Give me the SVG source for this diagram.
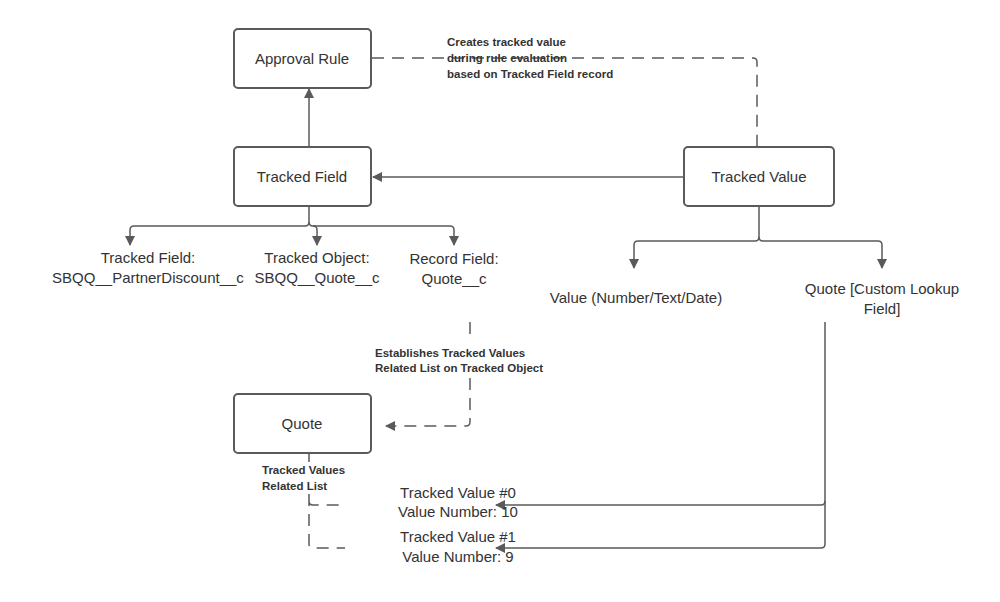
<svg xmlns="http://www.w3.org/2000/svg" width="1000" height="602" viewBox="0 0 1000 602">
<style>
.box{fill:#fff;stroke:#5a5a5a;stroke-width:2}
.t{font-family:"Liberation Sans",Arial,sans-serif;font-size:15px;fill:#333;text-anchor:middle}
.b{font-family:"Liberation Sans",Arial,sans-serif;font-size:11.5px;font-weight:bold;fill:#333}
.c{fill:none;stroke:#5a5a5a;stroke-width:1.5}
.d{stroke-dasharray:12,8}
</style>
<defs><marker id="a" markerWidth="10" markerHeight="10" refX="9" refY="5" orient="auto" markerUnits="userSpaceOnUse"><path d="M0,0L10,5L0,10z" fill="#5a5a5a"/></marker></defs>
<rect width="1000" height="602" fill="#fff"/>
<g id="connectors">
<path class="c" d="M309,147V89" marker-end="url(#a)"/>
<path class="c" d="M684,177H373" marker-end="url(#a)"/>
<path class="c d" d="M372,58H753q4,0 4,4V147"/>
<path class="c" d="M309,206V222q0,4 -4,4H134q-4,0 -4,4V245" marker-end="url(#a)"/>
<path class="c" d="M309,222q0,4 4,4H450q4,0 4,4V245" marker-end="url(#a)"/>
<path class="c" d="M313,226q4,0 4,4V245" marker-end="url(#a)"/>
<path class="c" d="M759,206V237q0,4 -4,4H638q-4,0 -4,4V268" marker-end="url(#a)"/>
<path class="c" d="M759,237q0,4 4,4H878q4,0 4,4V268" marker-end="url(#a)"/>
<path class="c d" d="M470,322V340M470,378V422q0,4 -4,4H386" marker-end="url(#a)"/>
<path class="c d" d="M309,453V462M309,494V544q0,4 4,4H345M309,501q0,4 4,4H345"/>
<path class="c" d="M825,322V544q0,4 -4,4H496" marker-end="url(#a)"/>
<path class="c" d="M825,501q0,4 -4,4H496" marker-end="url(#a)"/>
</g>
<g id="approval"><rect class="box" x="234" y="29" width="137" height="59" rx="4"/><text class="t" x="302" y="64">Approval Rule</text></g>
<g id="trackedfield"><rect class="box" x="234" y="147" width="137" height="59" rx="4"/><text class="t" x="302" y="182">Tracked Field</text></g>
<g id="trackedvalue"><rect class="box" x="684" y="147" width="150" height="59" rx="4"/><text class="t" x="759" y="182">Tracked Value</text></g>
<g id="quote"><rect class="box" x="234" y="394" width="137" height="59" rx="4"/><text class="t" x="302" y="429">Quote</text></g>
<g id="labels">
<text class="b" x="447" y="46">Creates tracked value</text>
<text class="b" x="447" y="62">during rule evaluation</text>
<text class="b" x="447" y="78">based on Tracked Field record</text>
<text class="t" x="148" y="263">Tracked Field:</text><text class="t" x="148" y="283">SBQQ__PartnerDiscount__c</text>
<text class="t" x="317" y="263">Tracked Object:</text><text class="t" x="317" y="283">SBQQ__Quote__c</text>
<text class="t" x="454" y="264">Record Field:</text><text class="t" x="454" y="284">Quote__c</text>
<text class="t" x="636" y="303">Value (Number/Text/Date)</text>
<text class="t" x="882" y="294">Quote [Custom Lookup</text><text class="t" x="882" y="314">Field]</text>
<text class="b" x="375" y="357">Establishes Tracked Values</text>
<text class="b" x="375" y="372">Related List on Tracked Object</text>
<text class="b" x="262" y="474">Tracked Values</text>
<text class="b" x="262" y="490">Related List</text>
<text class="t" x="458" y="498">Tracked Value #0</text><text class="t" x="458" y="517">Value Number: 10</text>
<text class="t" x="458" y="542">Tracked Value #1</text><text class="t" x="458" y="562">Value Number: 9</text>
</g>
</svg>
